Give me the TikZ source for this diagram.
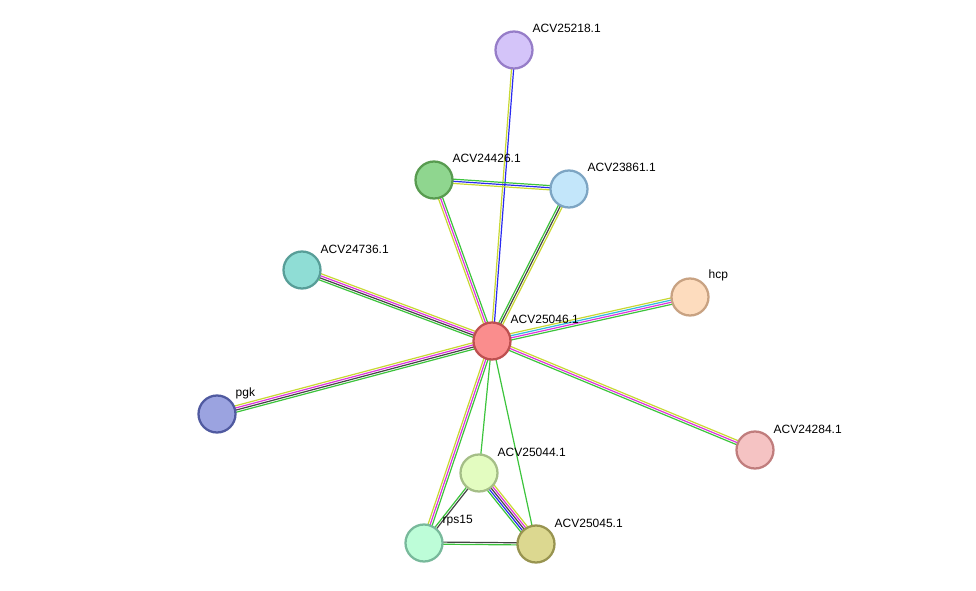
\documentclass[tikz,border=0pt]{standalone}
\usepackage{fontspec}
\setmainfont{Liberation Sans}
\usetikzlibrary{calc}
\definecolor{eY}{HTML}{C8D832}
\definecolor{eB}{HTML}{2A2AF0}
\definecolor{eG}{HTML}{3CC43C}
\definecolor{eM}{HTML}{DD33DD}
\definecolor{eK}{HTML}{444444}
\definecolor{eC}{HTML}{33BBDD}
\newcommand{\edgeset}[3]{%
  \foreach \c [count=\i] in {#3} {\xdef\nn{\i}}%
  \foreach \c [count=\i] in {#3} {%
    \pgfmathsetmacro{\o}{(\i-(\nn+1)/2)*1.6}%
    \draw[\c, line width=0.9pt] ($(#1)!\o pt!90:(#2)$) -- ($(#2)!\o pt!-90:(#1)$);}}
\begin{document}
\begin{tikzpicture}[x=0.75pt,y=-0.75pt,
  prot/.style={circle, minimum size=37*0.75pt, inner sep=0pt, line width=1.7pt},
  lab/.style={font=\fontsize{9}{10}\selectfont, anchor=west}]
\useasboundingbox (0,0) rectangle (976,590);
\coordinate (c25218) at (514,50);
\coordinate (c24426) at (434,180);
\coordinate (c23861) at (569,189);
\coordinate (c24736) at (302,270);
\coordinate (chcp) at (690,297);
\coordinate (c25046) at (492,341);
\coordinate (cpgk) at (217,414);
\coordinate (c24284) at (755,450);
\coordinate (c25044) at (479,473);
\coordinate (crps) at (424,543);
\coordinate (c25045) at (536,544);
\edgeset{c25218}{c25046}{eY,eB}
\edgeset{c24426}{c23861}{eY,eB,eG}
\edgeset{c24426}{c25046}{eY,eM,eG}
\edgeset{c23861}{c25046}{eG,eK,eY}
\edgeset{c24736}{c25046}{eG,eK,eM,eY}
\edgeset{chcp}{c25046}{eY,eC,eM,eG}
\edgeset{cpgk}{c25046}{eG,eK,eM,eY}
\edgeset{c24284}{c25046}{eY,eM,eG}
\edgeset{crps}{c25046}{eG,eM,eY}
\edgeset{c25044}{c25046}{eG}
\edgeset{c25045}{c25046}{eG}
\edgeset{c25044}{crps}{eG,eK}
\edgeset{c25044}{c25045}{eG,eB,eK,eM,eY}
\edgeset{crps}{c25045}{eG,eK}
\node[prot, fill={rgb,255:red,212;green,196;blue,249}, draw={rgb,255:red,150;green,125;blue,200}] (n25218) at (c25218) {};
\node[prot, fill={rgb,255:red,143;green,214;blue,143}, draw={rgb,255:red,88;green,155;blue,80}] (n24426) at (c24426) {};
\node[prot, fill={rgb,255:red,195;green,230;blue,250}, draw={rgb,255:red,125;green,165;blue,195}] (n23861) at (c23861) {};
\node[prot, fill={rgb,255:red,143;green,221;blue,213}, draw={rgb,255:red,88;green,158;blue,152}] (n24736) at (c24736) {};
\node[prot, fill={rgb,255:red,253;green,220;blue,190}, draw={rgb,255:red,200;green,162;blue,130}] (nhcp) at (chcp) {};
\node[prot, fill={rgb,255:red,250;green,141;blue,141}, draw={rgb,255:red,190;green,80;blue,80}] (n25046) at (c25046) {};
\node[prot, fill={rgb,255:red,155;green,163;blue,224}, draw={rgb,255:red,80;green,90;blue,160}] (npgk) at (cpgk) {};
\node[prot, fill={rgb,255:red,245;green,195;blue,195}, draw={rgb,255:red,192;green,125;blue,125}] (n24284) at (c24284) {};
\node[prot, fill={rgb,255:red,227;green,252;blue,192}, draw={rgb,255:red,165;green,190;blue,135}] (n25044) at (c25044) {};
\node[prot, fill={rgb,255:red,189;green,253;blue,216}, draw={rgb,255:red,120;green,185;blue,155}] (nrps) at (crps) {};
\node[prot, fill={rgb,255:red,220;green,216;blue,144}, draw={rgb,255:red,152;green,148;blue,80}] (n25045) at (c25045) {};
\node[lab] at (528,28) {ACV25218.1};
\node[lab] at (448,158) {ACV24426.1};
\node[lab] at (583,167) {ACV23861.1};
\node[lab] at (316,249) {ACV24736.1};
\node[lab] at (704,275) {hcp};
\node[lab] at (506,319) {ACV25046.1};
\node[lab] at (231,393) {pgk};
\node[lab] at (769,429) {ACV24284.1};
\node[lab] at (493,452) {ACV25044.1};
\node[lab] at (438,521) {rps15};
\node[lab] at (550,523) {ACV25045.1};
\end{tikzpicture}
\end{document}
